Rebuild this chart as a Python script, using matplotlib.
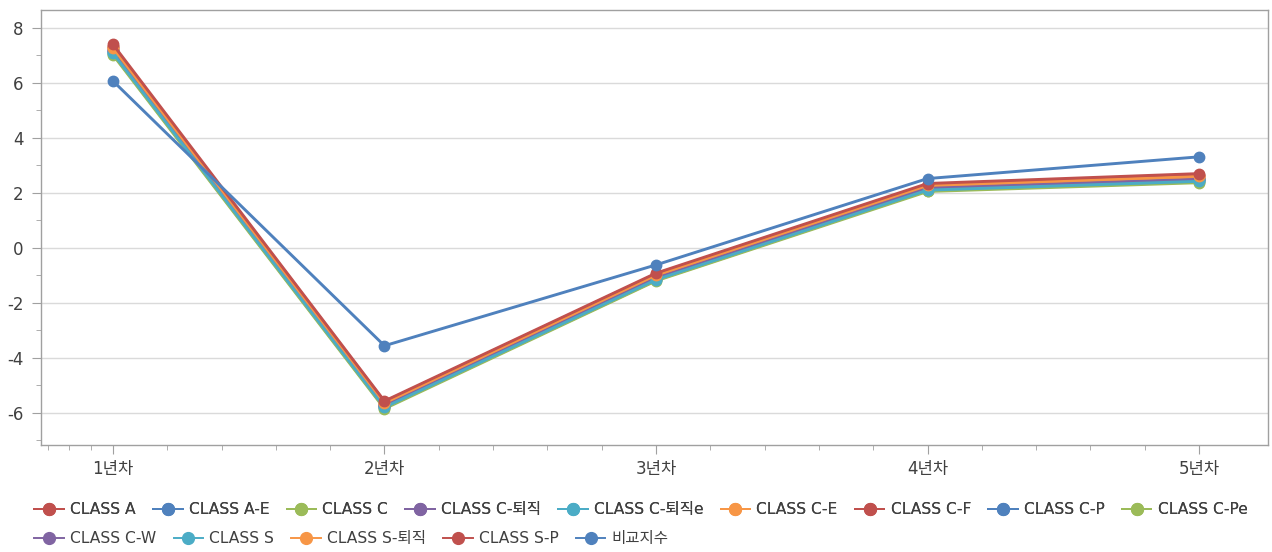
import matplotlib

matplotlib.use("Agg")
import matplotlib.pyplot as plt  # noqa: E402
from matplotlib.lines import Line2D  # noqa: E402
from matplotlib.ticker import FixedLocator, MultipleLocator  # noqa: E402

plt.rcParams["font.family"] = ["DejaVu Sans", "Noto Sans CJK KR"]
plt.rcParams["axes.unicode_minus"] = False

years = ["1년차", "2년차", "3년차", "4년차", "5년차"]

class_a = [7.35, -5.60, -0.95, 2.30, 2.65]
class_ae = [7.20, -5.70, -1.05, 2.22, 2.50]
class_c = [7.05, -5.82, -1.18, 2.08, 2.40]
class_c_ret = [7.15, -5.72, -1.08, 2.20, 2.52]
class_c_rete = [7.10, -5.76, -1.12, 2.15, 2.47]
class_ce = [7.25, -5.66, -1.00, 2.26, 2.58]
class_cf = [7.30, -5.63, -0.98, 2.28, 2.62]
class_cp = [7.12, -5.78, -1.14, 2.12, 2.44]
class_cpe = [7.02, -5.85, -1.20, 2.05, 2.37]
class_cw = [7.18, -5.74, -1.10, 2.18, 2.50]
class_s = [7.08, -5.80, -1.16, 2.10, 2.42]
class_s_ret = [7.28, -5.64, -0.99, 2.27, 2.60]
class_sp = [7.40, -5.57, -0.92, 2.34, 2.70]
benchmark = [6.07, -3.56, -0.62, 2.52, 3.31]

series_names = [
    "CLASS A", "CLASS A-E", "CLASS C", "CLASS C-퇴직", "CLASS C-퇴직e",
    "CLASS C-E", "CLASS C-F", "CLASS C-P", "CLASS C-Pe", "CLASS C-W",
    "CLASS S", "CLASS S-퇴직", "CLASS S-P", "비교지수",
]
series_values = [
    class_a, class_ae, class_c, class_c_ret, class_c_rete, class_ce, class_cf,
    class_cp, class_cpe, class_cw, class_s, class_s_ret, class_sp, benchmark,
]

RED = "#C0504D"
BLUE = "#4F81BD"
GREEN = "#9BBB59"
PURPLE = "#8064A2"
TEAL = "#4BACC6"
ORANGE = "#F79646"
palette = [RED, BLUE, GREEN, PURPLE, TEAL, ORANGE]

fig = plt.figure(figsize=(12.72, 5.52), dpi=100)
ax = fig.add_axes([0.0322, 0.1938, 0.9647, 0.7881])

x = list(range(len(years)))
handles = []
for i, (name, vals) in enumerate(zip(series_names, series_values)):
    color = palette[i % len(palette)]
    ax.plot(x, vals, color=color, lw=2.1, marker="o", ms=7.5, zorder=3 + i * 0.01)
    handles.append(
        Line2D([], [], color=color, lw=1.4, marker="o", ms=8.5, label=name)
    )

ax.set_xlim(-0.265, 4.254)
ax.set_ylim(-7.17, 8.65)
ax.set_xticks(x)
ax.set_xticklabels(years)
ax.xaxis.set_minor_locator(
    FixedLocator([-0.24, -0.16, -0.08] + [k + f for k in range(4) for f in (0.2, 0.4, 0.6, 0.8)])
)
ax.yaxis.set_major_locator(MultipleLocator(2))
ax.yaxis.set_minor_locator(MultipleLocator(1))

ax.grid(True, axis="y", which="major", color="#DADADA", lw=1)
ax.set_axisbelow(True)
for sp in ax.spines.values():
    sp.set_color("#A0A0A0")
    sp.set_linewidth(1)

ax.tick_params(axis="both", which="major", length=6.5, color="#A0A0A0", labelsize=12,
               labelcolor="#404040")
ax.tick_params(axis="both", which="minor", length=3.6, color="#A0A0A0")
ax.tick_params(axis="x", which="major", pad=4)
ax.tick_params(axis="y", which="major", pad=6)

leg_kw = dict(
    frameon=False, fontsize=11.2, handlelength=1.9, handletextpad=0.4,
    columnspacing=1.1, borderpad=0, labelcolor="#404040",
)
leg1 = fig.legend(handles=handles[:9], ncol=9, loc="center left",
                  bbox_to_anchor=(0.021, 0.077), **leg_kw)
fig.add_artist(leg1)
fig.legend(handles=handles[9:], ncol=5, loc="center left",
           bbox_to_anchor=(0.021, 0.0236), **leg_kw)

fig.savefig("out.png", dpi=100)
plt.close(fig)
